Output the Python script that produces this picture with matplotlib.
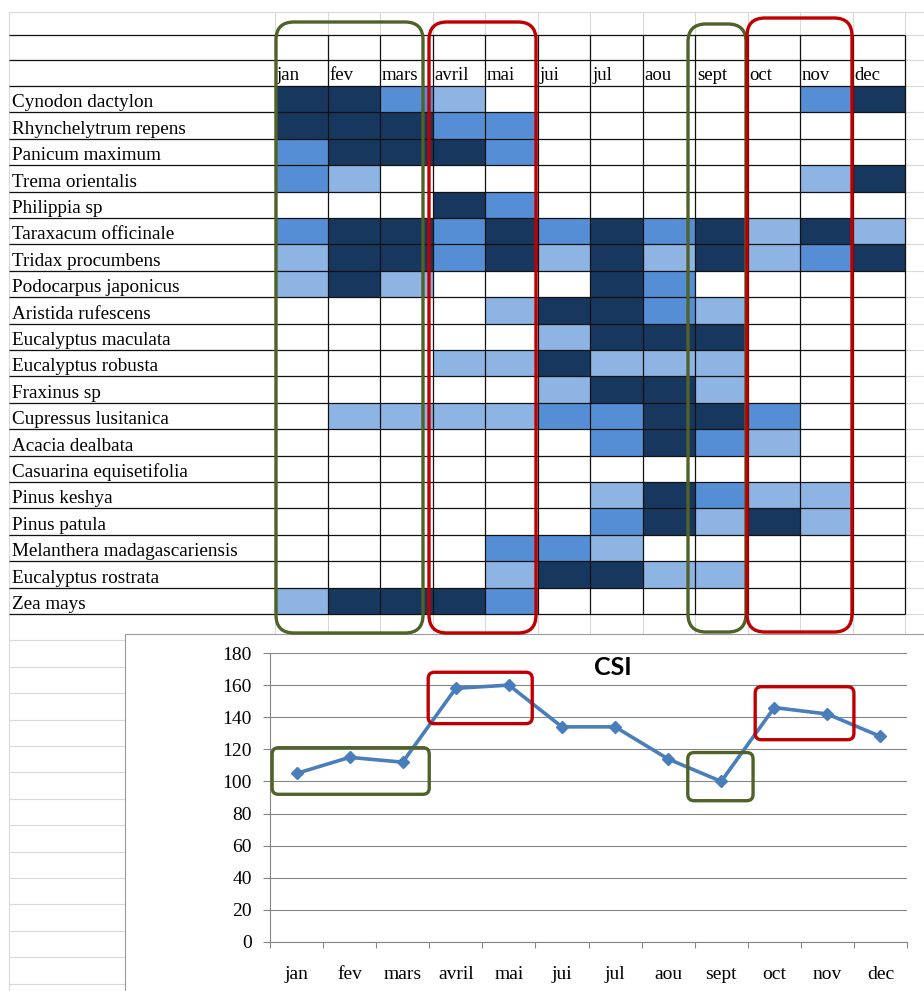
import matplotlib.pyplot as plt
import numpy as np
from matplotlib.colors import ListedColormap
from matplotlib.patches import FancyBboxPatch, Rectangle

W, H = 924, 991

MONTHS = ["jan", "fev", "mars", "avril", "mai", "jui",
          "jul", "aou", "sept", "oct", "nov", "dec"]

SPECIES = [
    "Cynodon dactylon", "Rhynchelytrum repens", "Panicum maximum",
    "Trema orientalis", "Philippia sp", "Taraxacum officinale",
    "Tridax procumbens", "Podocarpus japonicus", "Aristida rufescens",
    "Eucalyptus maculata", "Eucalyptus robusta", "Fraxinus sp",
    "Cupressus lusitanica", "Acacia dealbata", "Casuarina equisetifolia",
    "Pinus keshya", "Pinus patula", "Melanthera madagascariensis",
    "Eucalyptus rostrata", "Zea mays",
]

# pollen level per month: 0 none, 1 low, 2 medium, 3 high
LEVELS = np.array([
    [3, 3, 2, 1, 0, 0, 0, 0, 0, 0, 2, 3],
    [3, 3, 3, 2, 2, 0, 0, 0, 0, 0, 0, 0],
    [2, 3, 3, 3, 2, 0, 0, 0, 0, 0, 0, 0],
    [2, 1, 0, 0, 0, 0, 0, 0, 0, 0, 1, 3],
    [0, 0, 0, 3, 2, 0, 0, 0, 0, 0, 0, 0],
    [2, 3, 3, 2, 3, 2, 3, 2, 3, 1, 3, 1],
    [1, 3, 3, 2, 3, 1, 3, 1, 3, 1, 2, 3],
    [1, 3, 1, 0, 0, 0, 3, 2, 0, 0, 0, 0],
    [0, 0, 0, 0, 1, 3, 3, 2, 1, 0, 0, 0],
    [0, 0, 0, 0, 0, 1, 3, 3, 3, 0, 0, 0],
    [0, 0, 0, 1, 1, 3, 1, 1, 1, 0, 0, 0],
    [0, 0, 0, 0, 0, 1, 3, 3, 1, 0, 0, 0],
    [0, 1, 1, 1, 1, 2, 2, 3, 3, 2, 0, 0],
    [0, 0, 0, 0, 0, 0, 2, 3, 2, 1, 0, 0],
    [0, 0, 0, 0, 0, 0, 0, 0, 0, 0, 0, 0],
    [0, 0, 0, 0, 0, 0, 1, 3, 2, 1, 1, 0],
    [0, 0, 0, 0, 0, 0, 2, 3, 1, 3, 1, 0],
    [0, 0, 0, 0, 2, 2, 1, 0, 0, 0, 0, 0],
    [0, 0, 0, 0, 1, 3, 3, 1, 1, 0, 0, 0],
    [1, 3, 3, 3, 2, 0, 0, 0, 0, 0, 0, 0],
])

CSI = [105, 115, 112, 158, 160, 134, 134, 114, 100, 146, 142, 128]

GREEN = "#4F6228"
RED = "#C00000"
LEVEL_COLORS = ["white", "#8DB4E2", "#558ED5", "#17375E"]
SHEET_GRID = "#D9D9D9"
SERIF = "Liberation Serif"

# sheet geometry (pixels)
X0, CW = 275, 52.5
Y0, RH = 86, 26.4
LEFT = 9

fig = plt.figure(figsize=(W / 100, H / 100), dpi=100)
fig.patch.set_facecolor("white")

sheet = fig.add_axes([0, 0, 1, 1])
sheet.set_xlim(0, W)
sheet.set_ylim(H, 0)
sheet.axis("off")

xe = X0 + CW * np.arange(len(MONTHS) + 1)
ye = Y0 + RH * np.arange(len(SPECIES) + 1)

# faint spreadsheet gridlines
rows_below = ye[-1] + RH * np.arange(1, 16)
sheet.hlines(np.r_[12, 35, 60, ye, rows_below], LEFT, W, color=SHEET_GRID, lw=0.8, zorder=0.5)
sheet.vlines(np.r_[LEFT, xe], 12, H, color=SHEET_GRID, lw=0.8, zorder=0.5)

sheet.pcolormesh(xe, ye, LEVELS, cmap=ListedColormap(LEVEL_COLORS),
                 vmin=-0.5, vmax=3.5, zorder=1)

# table borders
sheet.hlines(np.r_[35, 60, ye], LEFT, xe[-1], color="#111111", lw=0.9, zorder=2)
sheet.vlines(xe, 35, ye[-1], color="#111111", lw=0.9, zorder=2)

for j, m in enumerate(MONTHS):
    sheet.text(xe[j] + 2, Y0 - 6, m, fontsize=13.5, family=SERIF,
               ha="left", va="baseline", zorder=3)
for i, name in enumerate(SPECIES):
    sheet.text(12, ye[i + 1] - 5, name, fontsize=13.8, family=SERIF,
               ha="left", va="baseline", zorder=3)

# highlighted month groups on the table
table_boxes = [
    (276, 22, 423, 633, GREEN),
    (429, 22, 536, 633, RED),
    (688, 24, 746, 632, GREEN),
    (747, 18, 852, 632, RED),
]
for x1, y1, x2, y2, col in table_boxes:
    sheet.add_patch(FancyBboxPatch((x1, y1), x2 - x1, y2 - y1,
                                   boxstyle="round,pad=0,rounding_size=18",
                                   fc="none", ec=col, lw=2.4, zorder=6))

# chart frame
sheet.add_patch(Rectangle((125, 634), W, H, fc="white", ec="#9A9A9A", lw=0.8, zorder=4))

ax = fig.add_axes([270 / W, 1 - 942 / H, (907 - 270) / W, (942 - 653) / H], zorder=5)
ax.set_facecolor("none")
x = np.arange(len(MONTHS)) + 0.5
ax.plot(x, CSI, color="#4A7EBB", lw=2.6, marker="D", ms=6.5, zorder=4)

ax.set_xlim(0, 12)
ax.set_ylim(0, 180)
ax.set_yticks(np.arange(0, 181, 20))
ax.set_xticks(np.arange(0, 13))
ax.set_xticklabels([])
ax.set_xticks(x, minor=True)
ax.set_xticklabels(MONTHS, minor=True)
ax.tick_params(axis="x", which="major", direction="out", length=4.5, color="#868686", width=0.8)
ax.tick_params(axis="x", which="minor", length=0, pad=17, labelsize=14)
ax.tick_params(axis="y", direction="out", length=5, color="#868686", width=0.8, pad=8, labelsize=14)
for lab in ax.get_xticklabels(which="minor") + ax.get_yticklabels():
    lab.set_family(SERIF)
ax.yaxis.grid(True, color="#868686", lw=0.8)
ax.set_axisbelow(True)
for side in ("top", "right"):
    ax.spines[side].set_visible(False)
for side in ("left", "bottom"):
    ax.spines[side].set_color("#868686")
    ax.spines[side].set_linewidth(0.8)

ax.text(6.46, 171, "CSI", fontsize=18, fontweight="bold", family="Lato",
        ha="center", va="center")

# highlighted month groups on the chart (x in months, y in index units)
chart_boxes = [
    (0.04, 92, 3.0, 121, GREEN),
    (2.98, 136, 4.94, 168, RED),
    (7.87, 88, 9.1, 118, GREEN),
    (9.14, 126, 11.0, 159, RED),
]
aspect = (1 / 1.606) / (1 / 53.08)
for x1, y1, x2, y2, col in chart_boxes:
    ax.add_patch(FancyBboxPatch((x1, y1), x2 - x1, y2 - y1,
                                boxstyle="round,pad=0,rounding_size=0.12",
                                mutation_aspect=aspect,
                                fc="none", ec=col, lw=2.4, zorder=5, clip_on=False))

fig.savefig("out.png", dpi=100, facecolor="white")
